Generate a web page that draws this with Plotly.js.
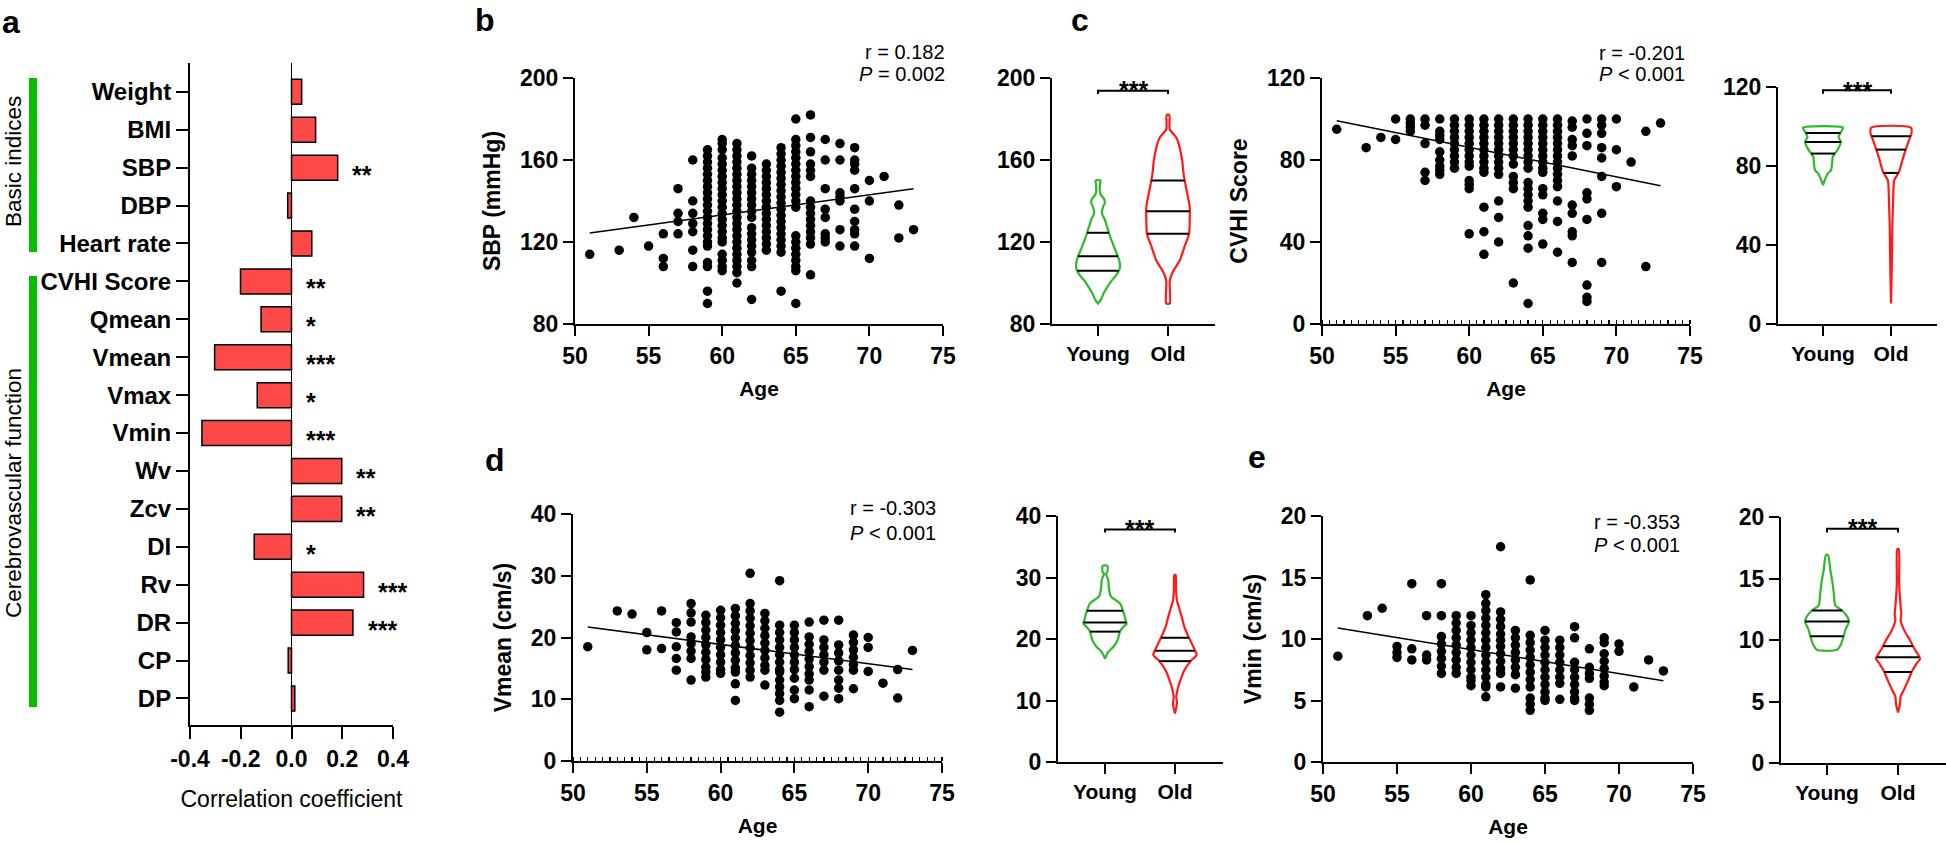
<!DOCTYPE html>
<html><head><meta charset="utf-8">
<script src="https://cdn.plot.ly/plotly-3.0.1.min.js"></script>
<style>html,body{margin:0;padding:0;background:#fff;} #chart{width:1946px;height:843px;}</style>
</head><body><div id="chart"></div>
<script>
// ---------------- DATA ----------------
// Panel a: correlation coefficients with age
const corrLabels = ['Weight','BMI','SBP','DBP','Heart rate','CVHI Score','Qmean','Vmean','Vmax','Vmin','Wv','Zcv','DI','Rv','DR','CP','DP'];
const corrValues = [0.04,0.095,0.182,-0.015,0.08,-0.201,-0.12,-0.303,-0.135,-0.353,0.198,0.198,-0.147,0.284,0.242,-0.013,0.013];
const corrStars  = ['','','**','','','**','*','***','*','***','**','**','*','***','***','',''];

// Ages (x) of scatter columns
const AGES = [51,52,53,54,55,56,57,58,59,60,61,62,63,64,65,66,67,68,69,70,71,72,73];

// Panel b: SBP by age
const sbpByAge = [
 [114],[],[116],[132],[118],[124,112,108],[146,134,130,124],
 [160,140,134,129,125,116,108],
 [165,162,159,156,153,150,147,144,141,138,135,132,129,126,123,120,118,110,108,96,90],
 [170,168,165,161,158,155,152,149,146,143,140,137,134,131,128,125,122,120,114,111,108,106],
 [168,165,162,159,156,153,150,147,144,141,138,135,132,129,126,123,120,117,114,111,108,105,100],
 [162,156,153,150,147,144,141,138,135,132,127,124,121,118,115,111,108,92],
 [158,155,152,149,146,143,140,137,134,131,128,125,122,119,116],
 [166,163,160,157,154,151,148,145,142,139,136,133,130,127,124,121,118,115,96],
 [180,170,167,164,161,158,155,152,149,146,143,140,137,123,120,117,114,111,108,106,90],
 [182,171,164,158,155,152,140,137,134,131,128,125,122,119,104],
 [170,160,146,136,132,124,122,120],
 [168,160,144,142,140,126,118],
 [166,160,158,155,146,136,130,126,124,118],
 [150,140,112],[152],[138,122],[126]
];
// Panel c: CVHI score by age
const cvhiByAge = [
 [95],[],[86],[91],[100,90],[100,98,96,94],[100,97,88,74,70],
 [100,94,92,90,84,80,77,75,73],
 [100,97,94,91,88,85,82,79,76],
 [100,97,94,91,88,85,82,79,77,70,68,66,44],
 [100,97,94,91,88,85,82,79,76,74,57,45,34],
 [100,97,94,91,88,85,82,79,76,73,60,52,40],
 [100,97,94,91,88,85,82,78,72,69,66,20],
 [100,97,94,91,88,85,82,79,76,69,66,63,60,57,48,43,37,10],
 [100,97,94,91,88,85,82,79,76,74,66,63,54,51,39],
 [100,97,94,91,88,85,82,79,76,73,70,67,60,50,35],
 [99,96,90,87,82,58,54,45,43,30],
 [100,93,87,64,61,51,19,13,11],
 [100,97,93,86,81,72,54,30],
 [100,85,67],[79],[94,28],[98]
];
// Panel d: Vmean by age
const vmeanByAge = [
 [18.5],[],[24.3],[23.8],[20.8,18],[24.3,18.2],[22.4,20.9,18.5,16.6,14.7],
 [25.5,24,22.5,20.1,19,17.8,16.6,13.1],
 [23.6,22.4,21.2,20,18.8,17.6,16.4,15.2,14.4,13.6],
 [24.4,23.2,22,20.8,19.6,18.4,17.2,16,14.8,14.2],
 [24.7,23.5,22.3,21.1,19.9,18.7,17.5,16.3,15.1,14.4,12.5,9.8],
 [30.4,25.5,24.3,23.1,21.9,20.7,19.5,18.3,17.1,15.9,14.7,13.6],
 [23.9,22.7,21.5,20.3,19.1,17.9,16.7,15.5,14.7,12.3],
 [29.2,22,20.8,19.6,18.4,17.2,16,14.8,14.4,13.1,12,10.9,9.8,7.9],
 [22,20.8,19.6,18.4,17.2,16,14.8,13.4,11.5,10.1],
 [22.5,20.1,18.9,17.7,16.5,15.3,14.1,13.1,11.5,8.8],
 [22.8,19.6,18.4,17.2,16,14.7,10.5],
 [22.8,18.8,17.5,16.2,14.7,13.1,11.8,10.1],
 [20.4,19.2,18,16.8,15.6,14.7,11.7],
 [20,18.4,14.5],[12.6],[14.8,10.2],[17.9]
];
// Panel e: Vmin by age
const vminByAge = [
 [8.6],[],[11.9],[12.5],[9.4,8.9,8.5],[14.5,9.2,8.3],[11.9,8.7,8.3],
 [14.5,11.9,10.2,9.6,9,8.4,7.8,7.2],
 [11.9,11.3,10.7,10.1,9.5,8.9,8.3,7.7,7.2],
 [11.9,11.1,10.5,9.9,9.3,8.7,8.1,7.5,6.9,6.6,6.2],
 [13.6,12.9,12.3,11.7,11.1,10.5,9.9,9.3,8.7,8.1,7.5,6.9,6.3,6.1,5.3],
 [17.5,12.2,11.6,11,10.4,9.9,9.4,8.8,8.2,7.6,7.2,6.1],
 [10.7,10.1,9.5,8.9,8.3,7.7,7.1,6],
 [14.8,10.3,9.7,9.1,8.5,7.9,7.3,6.7,6.1,5.2,4.7,4.2],
 [10.7,9.9,9.3,8.7,8.1,7.5,6.9,6.3,5.7,5.2,5],
 [9.9,9.3,8.7,8.1,7.5,6.9,6.4,5.1],
 [11,10.1,8.1,7.5,6.9,6.3,5.7,5.2,5],
 [9.2,7.7,7.2,6.8,5.2,4.7,4.2],
 [10.1,9.7,8.8,8.2,7.6,7,6.5,6.2],
 [9.6,9],[6.1],[8.3],[7.4]
];

// Regression lines (fitted values at age 51 and 73)
const fitAges = [51,73];
const sbpFit = [124.4,146];
const cvhiFit = [99.2,67.4];
const vmeanFit = [21.7,14.8];
const vminFit = [10.9,6.6];

const corrTexts = [['r = 0.182','<i>P</i> = 0.002'],['r = -0.201','<i>P</i> < 0.001'],['r = -0.303','<i>P</i> < 0.001'],['r = -0.353','<i>P</i> < 0.001']];

// Violin profiles (levels and relative density) and quartiles [Q1, median, Q3]
const groupNames = ['Young','Old'];
const sbpYoungLv = [150,148,145,143,141,139,137,134,131,128,125,122,119,116,113,110,107,104,101,98,95,92,90];
const sbpYoungDen = [0.11,0.09,0.08,0.12,0.28,0.31,0.23,0.18,0.31,0.40,0.49,0.58,0.69,0.80,0.92,1.00,1.00,0.85,0.62,0.43,0.26,0.14,0.00];
const sbpOldLv = [182,175,171,166,160,153,144,137,131,124,118,111,105,101,90];
const sbpOldDen = [0.06,0.08,0.38,0.54,0.65,0.72,0.88,1.00,1.00,0.97,0.77,0.54,0.20,0.08,0.08];
const sbpYoungQ = [106,113,124.5], sbpOldQ = [124,135,150];

const cvhiYoungLv = [99.4,97.3,94.7,92.2,89.7,87.1,84.6,81.2,77.9,76.2,72.8,70.3];
const cvhiYoungDen = [0.95,0.85,0.74,0.85,0.77,0.62,0.46,0.43,0.38,0.23,0.08,0];
const cvhiOldLv = [99.4,96.4,93,88,83,77,72.8,69.4,59.3,49.2,39.1,25.6,10.4];
const cvhiOldDen = [0.94,0.97,0.85,0.69,0.54,0.38,0.15,0.12,0.09,0.06,0.05,0.03,0];
const cvhiYoungQ = [86.3,92.2,96.7], cvhiOldQ = [76.5,88.3,95];

const vmeanYoungLv = [31.9,30.9,30.6,29.6,28.2,26.9,25.8,24.4,23.1,22.5,22,21.2,19.8,18.7,17.9,16.8];
const vmeanYoungDen = [0.11,0.11,0.05,0.15,0.18,0.28,0.69,0.85,0.95,1.0,0.85,0.69,0.58,0.38,0.15,0];
const vmeanOldLv = [30.4,28,26.3,25.2,23.6,22,20.4,18.7,17.4,16.6,14.9,13.6,12.2,10.6,9.5,7.9];
const vmeanOldDen = [0.03,0.05,0.09,0.18,0.31,0.43,0.62,0.85,1.0,0.77,0.43,0.28,0.15,0.06,0.09,0];
const vmeanYoungQ = [21.2,22.7,24.6], vmeanOldQ = [16.4,18.1,20.2];

const vminYoungLv = [16.9,15.7,14.9,13.8,12.8,12.4,11.9,11.5,10.9,10.2,9.6,9.2];
const vminYoungDen = [0.05,0.15,0.23,0.31,0.38,0.69,0.92,1.0,0.85,0.74,0.62,0.46];
const vminOldLv = [17.4,14.9,14.3,12.7,12.1,11.6,10.8,10,9.2,8.5,8.1,7.5,6.7,6,5.4,4.8,4.1];
const vminOldDen = [0.03,0.05,0.06,0.12,0.15,0.12,0.28,0.54,0.77,1.0,0.85,0.65,0.46,0.28,0.12,0.09,0];
const vminYoungQ = [10.3,11.5,12.4], vminOldQ = [7.4,8.6,9.5];

// Significance bracket levels [stars, bracket top, bracket ends]
const sbpSig = [197.4,193.8,192.2];
const cvhiSig = [121.7,118.3,116.6];
const vmeanSig = [39.1,37.8,37.3];
const vminSig = [19.7,19.05,18.75];

// ---------------- STYLE / HELPERS ----------------
const W = 1946, H = 843;
const FONT = 'Arial, "Liberation Sans", Helvetica, sans-serif';
const RED = '#FF1A1A', GREEN = '#2DB82D', BAR_RED = '#FF4848', BAR_GREEN = '#00C000';
const VIOLIN_HALF = 0.31;
const xd = (a,b) => [a/W, b/W];
const yd = (t,b) => [1-b/H, 1-t/H];
const px = x => x/W, py = y => 1-y/H;

const baseAxis = {showline:true, linecolor:'#000', linewidth:2, ticks:'outside', ticklen:10, tickwidth:2,
  tickcolor:'#000', showgrid:false, zeroline:false, fixedrange:true,
  tickfont:{family:FONT, size:23, color:'#000', weight:'bold'}};
const axis = o => Object.assign({}, baseAxis, o);

function flatten(byAge){ const xs=[], ys=[]; byAge.forEach((vals,i)=>vals.forEach(v=>{xs.push(AGES[i]); ys.push(v);})); return [xs,ys]; }

const traces = [];
const annotations = [];
const shapes = [];
const starNotes = [];

// Panel a bars
traces.push({type:'bar', orientation:'h', y:corrLabels, x:corrValues, xaxis:'x', yaxis:'y', width:0.66,
  marker:{color:BAR_RED, line:{color:'#000', width:1.5}}, hoverinfo:'x+y'});
corrLabels.forEach((lab,i)=>{ if(corrStars[i]) annotations.push({xref:'x', yref:'y', x:Math.max(corrValues[i],0)+0.05, y:lab,
  text:corrStars[i], showarrow:false, xanchor:'left', yanchor:'middle', yshift:-7, font:{family:FONT,size:25,color:'#000',weight:'bold'}}); });

// Scatter panels
function scatterPanel(byAge, fit, xa, ya, txt, txtX, txtY1, txtY2){
  const [xs,ys] = flatten(byAge);
  traces.push({type:'scatter', mode:'markers', x:xs, y:ys, xaxis:xa, yaxis:ya, cliponaxis:false,
    marker:{color:'#000', size:9.5}, hoverinfo:'x+y'});
  traces.push({type:'scatter', mode:'lines', x:fitAges, y:fit, xaxis:xa, yaxis:ya, line:{color:'#000', width:1.5}, hoverinfo:'skip'});
  annotations.push({xref:'paper', yref:'paper', x:px(txtX), y:py(txtY1), text:txt[0], showarrow:false, xanchor:'right', yanchor:'middle', font:{family:FONT,size:20,color:'#000'}});
  annotations.push({xref:'paper', yref:'paper', x:px(txtX), y:py(txtY2), text:txt[1], showarrow:false, xanchor:'right', yanchor:'middle', font:{family:FONT,size:20,color:'#000'}});
}
scatterPanel(sbpByAge, sbpFit, 'x2','y2', corrTexts[0], 947, 52, 74);
scatterPanel(cvhiByAge, cvhiFit, 'x4','y4', corrTexts[1], 1687, 53, 74);
scatterPanel(vmeanByAge, vmeanFit, 'x6','y6', corrTexts[2], 938, 508, 533);
scatterPanel(vminByAge, vminFit, 'x8','y8', corrTexts[3], 1682, 522, 545);

// Violins
function interp(lv, den, q){
  for(let i=0;i<lv.length-1;i++){ if(lv[i]>=q && q>=lv[i+1]){ const t=(lv[i]-q)/(lv[i]-lv[i+1]); return den[i]+(den[i+1]-den[i])*t; } }
  return 0;
}
function violin(pos, lv, den, q, color, xa, ya){
  const n = lv.length;
  const xs = [], ys = [];
  for(let i=0;i<n;i++){ xs.push(pos-den[i]*VIOLIN_HALF); ys.push(lv[i]); }
  for(let i=n-1;i>=0;i--){ xs.push(pos+den[i]*VIOLIN_HALF); ys.push(lv[i]); }
  xs.push(xs[0]); ys.push(ys[0]);
  traces.push({type:'scatter', mode:'lines', x:xs, y:ys, xaxis:xa, yaxis:ya, cliponaxis:false,
    line:{color:color, width:2.2, shape:'spline', smoothing:0.7}, hoverinfo:'skip'});
  const qx=[], qy=[];
  q.forEach(v=>{ const w = interp(lv,den,v)*VIOLIN_HALF; qx.push(pos-w,pos+w,null); qy.push(v,v,null); });
  traces.push({type:'scatter', mode:'lines', x:qx, y:qy, xaxis:xa, yaxis:ya, line:{color:'#000', width:2}, hoverinfo:'skip'});
}
function bracket(sig, xa, ya){
  traces.push({type:'scatter', mode:'lines', x:[0,0,1,1], y:[sig[2],sig[1],sig[1],sig[2]], xaxis:xa, yaxis:ya, cliponaxis:false,
    line:{color:'#000', width:2}, hoverinfo:'skip'});
  starNotes.push({xa, ya, level:sig[0]});
}
violin(0, sbpYoungLv, sbpYoungDen, sbpYoungQ, GREEN, 'x3','y3');
violin(1, sbpOldLv, sbpOldDen, sbpOldQ, RED, 'x3','y3');
bracket(sbpSig,'x3','y3');
violin(0, cvhiYoungLv, cvhiYoungDen, cvhiYoungQ, GREEN, 'x5','y5');
violin(1, cvhiOldLv, cvhiOldDen, cvhiOldQ, RED, 'x5','y5');
bracket(cvhiSig,'x5','y5');
violin(0, vmeanYoungLv, vmeanYoungDen, vmeanYoungQ, GREEN, 'x7','y7');
violin(1, vmeanOldLv, vmeanOldDen, vmeanOldQ, RED, 'x7','y7');
bracket(vmeanSig,'x7','y7');
violin(0, vminYoungLv, vminYoungDen, vminYoungQ, GREEN, 'x9','y9');
violin(1, vminOldLv, vminOldDen, vminOldQ, RED, 'x9','y9');
bracket(vminSig,'x9','y9');

// Panel labels
[['a',11,22],['b',485,20],['c',1080,20],['d',495,460],['e',1257,457]].forEach(([t,x,y])=>{
  annotations.push({xref:'paper', yref:'paper', x:px(x), y:py(y), text:t, showarrow:false, xanchor:'center', yanchor:'middle',
    font:{family:FONT,size:32,color:'#000',weight:'bold'}});
});
// Group labels in panel a
annotations.push({xref:'paper', yref:'paper', x:px(13), y:py(162), text:'Basic indices', textangle:-90, showarrow:false,
  xanchor:'center', yanchor:'middle', font:{family:FONT,size:22.5,color:'#000'}});
annotations.push({xref:'paper', yref:'paper', x:px(13), y:py(493), text:'Cerebrovascular function', textangle:-90, showarrow:false,
  xanchor:'center', yanchor:'middle', font:{family:FONT,size:22.5,color:'#000'}});
shapes.push({type:'line', xref:'paper', yref:'paper', x0:px(33), x1:px(33), y0:py(78), y1:py(252), line:{color:BAR_GREEN, width:8}});
shapes.push({type:'line', xref:'paper', yref:'paper', x0:px(33), x1:px(33), y0:py(276), y1:py(707), line:{color:BAR_GREEN, width:8}});

const xTitle = t => ({text:t, font:{family:FONT,size:21,color:'#000',weight:'bold'}, standoff:14});
const yTitle = t => ({text:t, font:{family:FONT,size:23,color:'#000',weight:'bold'}, standoff:13});
const ageAxis = (dom, ya, minor) => axis({domain:xd(dom[0],dom[1]), range:[50,75], tickvals:[50,55,60,65,70,75], anchor:ya, title:xTitle('Age'),
  minor: minor ? {dtick:0.5, ticks:'inside', ticklen:4, tickwidth:1.2, tickcolor:'#000'} : undefined});
const grpAxis = (dom, rng, ya) => axis({domain:xd(dom[0],dom[1]), range:rng, tickvals:[0,1], ticktext:groupNames, anchor:ya,
  tickfont:{family:FONT,size:21,color:'#000',weight:'bold'}});

const layout = {
  width:W, height:H, margin:{l:0,r:0,t:0,b:0}, paper_bgcolor:'#fff', plot_bgcolor:'rgba(0,0,0,0)', showlegend:false,
  font:{family:FONT, color:'#000'},
  xaxis: axis({domain:xd(190,393), range:[-0.4,0.4], tickvals:[-0.4,-0.2,0,0.2,0.4], ticktext:['-0.4','-0.2','0.0','0.2','0.4'],
    ticklen:12, zeroline:true, zerolinecolor:'#000', zerolinewidth:1.5, anchor:'y',
    title:{text:'Correlation coefficient', font:{family:FONT,size:23,color:'#000'}, standoff:20}}),
  yaxis: axis({domain:yd(63,725), type:'category', categoryorder:'array', categoryarray:corrLabels, range:[16.7,-0.76], ticklen:12,
    anchor:'x', tickfont:{family:FONT,size:24,color:'#000',weight:'bold'}}),
  xaxis2: ageAxis([575,943],'y2',false),
  yaxis2: axis({domain:yd(78,324), range:[80,200], tickvals:[80,120,160,200], anchor:'x2', title:yTitle('SBP (mmHg)')}),
  xaxis3: grpAxis([1052,1215],[-0.657,1.671],'y3'),
  yaxis3: axis({domain:yd(78,324), range:[80,200], tickvals:[80,120,160,200], anchor:'x3'}),
  xaxis4: ageAxis([1322,1690],'y4',true),
  yaxis4: axis({domain:yd(78,324), range:[0,120], tickvals:[0,40,80,120], anchor:'x4', title:yTitle('CVHI Score')}),
  xaxis5: grpAxis([1778,1937],[-0.662,1.676],'y5'),
  yaxis5: axis({domain:yd(87,324), range:[0,120], tickvals:[0,40,80,120], anchor:'x5'}),
  xaxis6: ageAxis([573,942],'y6',true),
  yaxis6: axis({domain:yd(514,761), range:[0,40], tickvals:[0,10,20,30,40], anchor:'x6', title:yTitle('Vmean (cm/s)')}),
  xaxis7: grpAxis([1058,1223],[-0.671,1.686],'y7'),
  yaxis7: axis({domain:yd(516,762), range:[0,40], tickvals:[0,10,20,30,40], anchor:'x7'}),
  xaxis8: ageAxis([1323,1693],'y8',false),
  yaxis8: axis({domain:yd(516,762), range:[0,20], tickvals:[0,5,10,15,20], anchor:'x8', title:yTitle('Vmin (cm/s)')}),
  xaxis9: grpAxis([1781,1946],[-0.648,1.676],'y9'),
  yaxis9: axis({domain:yd(517,763), range:[0,20], tickvals:[0,5,10,15,20], anchor:'x9'}),
  annotations, shapes
};

// Significance stars: placed in paper coordinates (may lie above the axis range)
starNotes.forEach(s=>{
  const xa = layout['xaxis'+s.xa.slice(1)], ya = layout['yaxis'+s.ya.slice(1)];
  const fx = xa.domain[0] + (0.5 - xa.range[0])/(xa.range[1]-xa.range[0])*(xa.domain[1]-xa.domain[0]);
  const fy = ya.domain[0] + (s.level - ya.range[0])/(ya.range[1]-ya.range[0])*(ya.domain[1]-ya.domain[0]);
  annotations.push({xref:'paper', yref:'paper', x:fx, y:fy, text:'***', showarrow:false, xanchor:'center', yanchor:'middle', yshift:-7,
    font:{family:FONT,size:25,color:'#000',weight:'bold'}});
});

Plotly.newPlot('chart', traces, layout, {staticPlot:true, displayModeBar:false});
</script></body></html>
